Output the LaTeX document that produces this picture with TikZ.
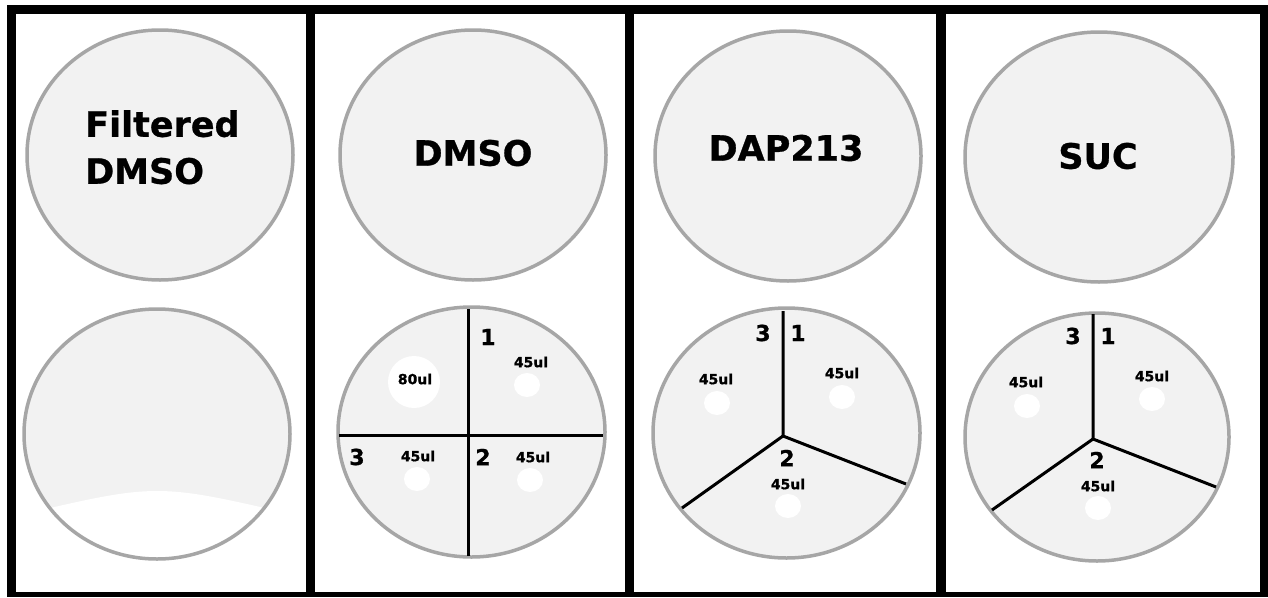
\documentclass[tikz,border=0pt]{standalone}
\usepackage{fontspec}
\setmainfont{DejaVu Sans}[BoldFeatures={FakeBold=0.8}]
\definecolor{platefill}{HTML}{F2F2F2}
\definecolor{platerim}{HTML}{A6A6A6}
\begin{document}
\begin{tikzpicture}[x=1pt,y=-1pt,
  rim/.style={draw=platerim, line width=3.5pt},
  divider/.style={draw=black, line width=3pt},
  well/.style={fill=white},
  vol/.style={font=\bfseries\fontsize{14}{14}\selectfont, inner sep=0pt},
  sector/.style={font=\bfseries\fontsize{22}{22}\selectfont, inner sep=0pt},
  title/.style={font=\bfseries\fontsize{35}{47}\selectfont, inner sep=0pt, align=left}]
\useasboundingbox (0,0) rectangle (1268,597);
% frame and panels
\fill[black] (7,5) rectangle (1268,597);
\fill[white] (16,14) rectangle (306,592);
\fill[white] (315,14) rectangle (625,592);
\fill[white] (634,14) rectangle (936,592);
\fill[white] (946,14) rectangle (1260,592);

% ---- top plates
\draw[rim, fill=platefill] (160,155) ellipse [x radius=133, y radius=125];
\draw[rim, fill=platefill] (473,155) ellipse [x radius=133, y radius=125];
\draw[rim, fill=platefill] (788,156) ellipse [x radius=133, y radius=125];
\draw[rim, fill=platefill] (1099,157) ellipse [x radius=134, y radius=125];
\node[title, anchor=north west] (t1) at (85,110) {Filtered\\DMSO};
\node[title] (t2) at (473,153) {DMSO};
\node[title] (t3) at (786,148) {DAP213};
\node[title] (t4) at (1098,156) {SUC};

% ---- panel 1: bottom plate with cleared lower edge
\fill[platefill] (157,434) ellipse [x radius=133, y radius=125];
\begin{scope}
  \clip (157,434) ellipse [x radius=133, y radius=125];
  \fill[white] (20,515) .. controls (157,483) .. (295,515) -- (295,570) -- (20,570) -- cycle;
\end{scope}
\draw[rim] (157,434) ellipse [x radius=133, y radius=125];

% ---- panel 2: four quadrants
\draw[rim, fill=platefill] (471.5,432) ellipse [x radius=133.5, y radius=125];
\coordinate (d2n) at (468,309);
\coordinate (d2s) at (468,556);
\coordinate (d2w) at (339,435);
\coordinate (d2e) at (603,435);
\draw[divider] (d2n) -- (d2s);
\draw[divider] (d2w) -- (d2e);
\fill[well] (414,382) circle (26);
\fill[well] (527,385) ellipse [x radius=13, y radius=12];
\fill[well] (417,479) ellipse [x radius=13, y radius=12];
\fill[well] (530,480) ellipse [x radius=13, y radius=12];
\node[vol] (v2a) at (415,379) {80ul};
\node[vol] (v2b) at (531,362) {45ul};
\node[vol] (v2c) at (418,456) {45ul};
\node[vol] (v2d) at (533,457) {45ul};
\node[sector] (s2a) at (488,337) {1};
\node[sector] (s2b) at (483,457) {2};
\node[sector] (s2c) at (357,457) {3};

% ---- panel 3: three sectors
\draw[rim, fill=platefill] (786.5,433) ellipse [x radius=133.5, y radius=125];
\coordinate (h3) at (783,436);
\coordinate (e3n) at (783,311);
\coordinate (e3w) at (682,508);
\coordinate (e3e) at (906,484);
\draw[divider, line join=miter] (e3n) -- (h3) -- (e3e);
\draw[divider] (h3) -- (e3w);
\fill[well] (717,403) ellipse [x radius=13, y radius=12];
\fill[well] (842,397) ellipse [x radius=13, y radius=12];
\fill[well] (788,506) ellipse [x radius=13, y radius=12];
\node[vol] (v3a) at (716,379) {45ul};
\node[vol] (v3b) at (842,373) {45ul};
\node[vol] (v3c) at (788,484) {45ul};
\node[sector] (s3a) at (798,333) {1};
\node[sector] (s3b) at (787,458) {2};
\node[sector] (s3c) at (763,333) {3};

% ---- panel 4: three sectors
\draw[rim, fill=platefill] (1097,437) ellipse [x radius=132, y radius=124];
\coordinate (h4) at (1093,439);
\coordinate (e4n) at (1093,314);
\coordinate (e4w) at (992,510);
\coordinate (e4e) at (1216,487);
\draw[divider, line join=miter] (e4n) -- (h4) -- (e4e);
\draw[divider] (h4) -- (e4w);
\fill[well] (1027,406) ellipse [x radius=13, y radius=12];
\fill[well] (1152,399) ellipse [x radius=13, y radius=12];
\fill[well] (1098,508) ellipse [x radius=13, y radius=12];
\node[vol] (v4a) at (1026,382) {45ul};
\node[vol] (v4b) at (1152,376) {45ul};
\node[vol] (v4c) at (1098,486) {45ul};
\node[sector] (s4a) at (1108,336) {1};
\node[sector] (s4b) at (1097,460) {2};
\node[sector] (s4c) at (1073,336) {3};
\end{tikzpicture}
\end{document}
